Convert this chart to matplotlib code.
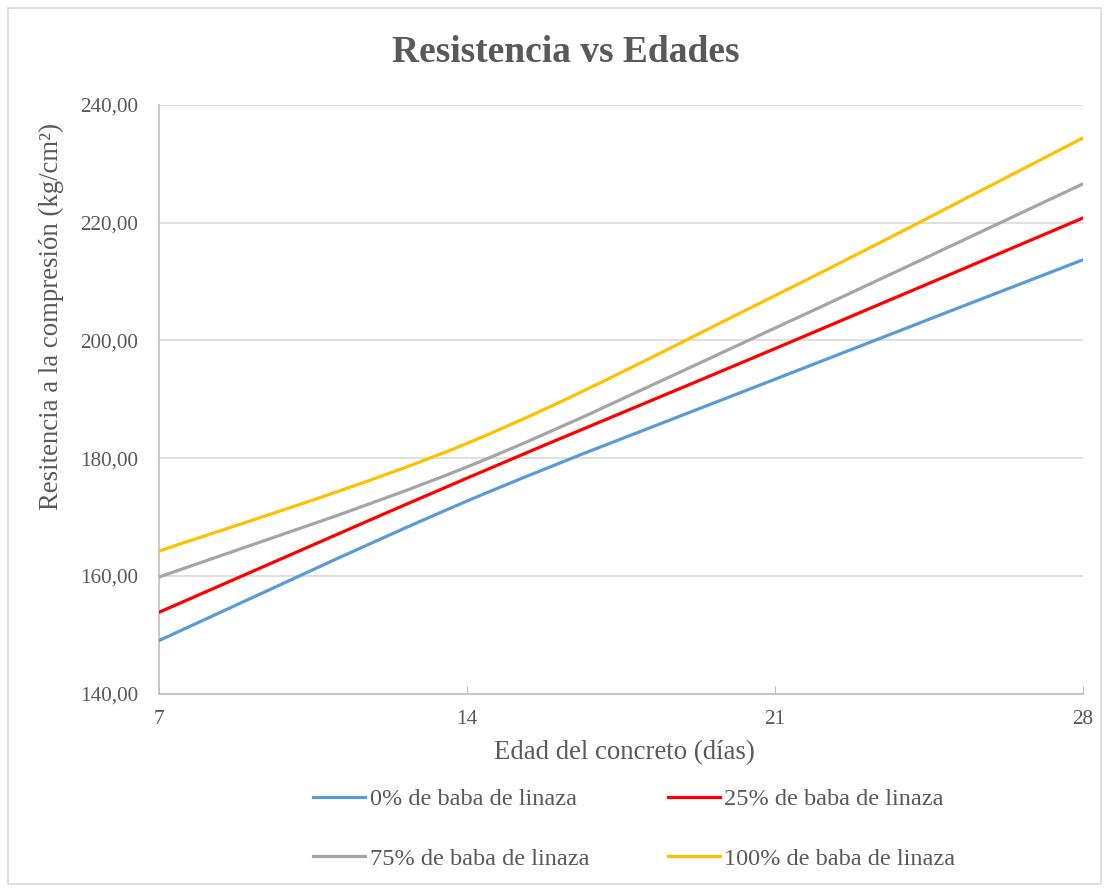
import numpy as np
import matplotlib
matplotlib.use("Agg")
import matplotlib.pyplot as plt
from matplotlib.path import Path
from matplotlib.patches import PathPatch, Rectangle
from matplotlib.lines import Line2D

# data
edades = [7, 14, 21, 28]
res_0 = [149.0, 172.7, 193.4, 213.7]
res_25 = [153.8, 176.6, 198.6, 220.8]
res_75 = [159.8, 178.5, 202.1, 226.6]
res_100 = [164.2, 182.5, 207.6, 234.4]
series_names = ["0% de baba de linaza", "25% de baba de linaza",
                "75% de baba de linaza", "100% de baba de linaza"]
colores = ["#5B9BD5", "#FF0000", "#A5A5A5", "#FFC000"]
yticks = [140, 160, 180, 200, 220, 240]

plt.rcParams['font.family'] = ['Liberation Serif', 'DejaVu Serif']
txt = "#595959"


# smoothed line like the spreadsheet one (bezier through the points)
def smooth_path(x, y):
    p = np.column_stack([x, y]).astype(float)
    n = len(p)
    verts = [p[0]]
    codes = [Path.MOVETO]
    for i in range(n - 1):
        p0 = p[max(i - 1, 0)]
        p1 = p[i]
        p2 = p[i + 1]
        p3 = p[min(i + 2, n - 1)]
        c1 = p1 + (p2 - p0) / 6.0
        c2 = p2 - (p3 - p1) / 6.0
        verts += [c1, c2, p2]
        codes += [Path.CURVE4] * 3
    return Path(verts, codes)


fig = plt.figure(figsize=(11.09, 8.92), dpi=100)
fig.patches.append(Rectangle((8 / 1109, 8 / 892), 1 - 16 / 1109, 1 - 16 / 892,
                             transform=fig.transFigure, fill=False,
                             edgecolor="#d9d9d9", linewidth=1.2))

ax = fig.add_axes([0.1434, 0.2225, 0.8331, 0.6598])

handles = []
for vals, col in zip([res_0, res_25, res_75, res_100], colores):
    patch = PathPatch(smooth_path(edades, vals), fill=False, edgecolor=col,
                      linewidth=2.3, capstyle='round', joinstyle='round', zorder=3)
    ax.add_patch(patch)
    handles.append(Line2D([], [], color=col, linewidth=2.3))

ax.set_xlim(7, 28)
ax.set_ylim(140, 240)
ax.set_xticks(edades)
ax.set_yticks(yticks)
ax.set_yticklabels([f"{v:.2f}".replace(".", ",") for v in yticks])
ax.grid(axis='y', color="#d9d9d9", linewidth=1.2)
ax.set_axisbelow(True)
for s in ['top', 'right']:
    ax.spines[s].set_visible(False)
for s in ['left', 'bottom']:
    ax.spines[s].set_color("#bfbfbf")
    ax.spines[s].set_linewidth(1.2)
ax.tick_params(axis='x', direction='in', length=6, color="#bfbfbf",
               labelsize=15.3, labelcolor=txt, pad=12)
ax.tick_params(axis='y', length=0, labelsize=15.3, labelcolor=txt, pad=15)

fig.text(0.51, 1 - 52 / 892, "Resistencia vs Edades", ha='center', va='center',
         fontsize=27, fontweight='bold', color=txt)
fig.text(624 / 1109, 1 - 753 / 892, "Edad del concreto (días)", ha='center',
         va='center', fontsize=19.3, color=txt)
fig.text(51 / 1109, 1 - 316 / 892, "Resitencia a la compresión (kg/cm²)",
         ha='center', va='center', rotation=90, fontsize=19.3, color=txt)

# legend is filled row by row in the reference
order = [0, 2, 1, 3]
fig.legend([handles[i] for i in order], [series_names[i] for i in order],
           ncol=2, loc='center', bbox_to_anchor=(0.572, 1 - 829 / 892),
           frameon=False, fontsize=17.5, labelcolor=txt, handlelength=2.14,
           handletextpad=0.17, columnspacing=3.25, labelspacing=1.55)

fig.savefig("out.png", dpi=100)
